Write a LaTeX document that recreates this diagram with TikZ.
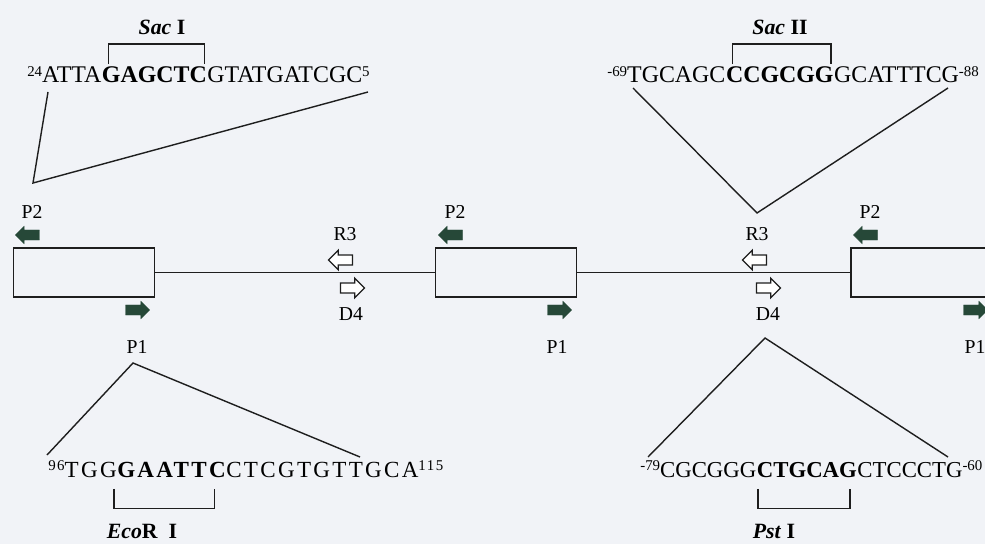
\documentclass[tikz,border=0pt]{standalone}
\usepackage{fontspec}
\setmainfont{Liberation Serif}
\usetikzlibrary{shapes.arrows}
\definecolor{primergreen}{RGB}{38,72,56}
\definecolor{paper}{RGB}{241,243,247}
\definecolor{ink}{RGB}{30,30,30}
\newcommand\seqpos[1]{\raisebox{4.3pt}{\fontsize{10.6}{12}\selectfont #1}}

\begin{document}
\begin{tikzpicture}[
x=0.025cm, y=-0.025cm,
exon/.style={rectangle, draw=ink, line width=1.2pt, minimum width=3.53cm, minimum height=1.22cm, inner sep=0pt},
intron/.style={draw=ink, line width=0.9pt},
tent/.style={draw=ink, line width=1pt},
site/.style={draw=ink, line width=1pt},
primerL/.style={single arrow, shape border rotate=180, fill=primergreen, draw=primergreen, line width=0.3pt,
  inner xsep=0pt, inner ysep=0.12cm, single arrow head extend=0.09cm, minimum height=0.6cm},
primerR/.style={primerL, shape border rotate=0},
hollowL/.style={single arrow, shape border rotate=180, fill=white, draw=ink, line width=0.9pt,
  inner xsep=0pt, inner ysep=0.11cm, single arrow head extend=0.12cm, minimum height=0.6cm},
hollowR/.style={hollowL, shape border rotate=0},
plabel/.style={font=\fontsize{14}{16}\selectfont, inner sep=0pt},
seq/.style={font=\fontsize{17}{19}\selectfont, inner sep=0pt},
seqbold/.style={font=\fontsize{17}{19}\selectfont\bfseries, inner sep=0pt},
seqwide/.style={font=\fontsize{16.4}{18}\selectfont\addfontfeature{LetterSpace=10}, inner sep=0pt},
seqwidebold/.style={font=\fontsize{16.4}{18}\selectfont\bfseries\addfontfeature{LetterSpace=10}, inner sep=0pt},
seqnarrow/.style={font=\fontsize{16.2}{18}\selectfont, inner sep=0pt},
seqnarrowbold/.style={font=\fontsize{16.2}{18}\selectfont\bfseries, inner sep=0pt},
enzyme/.style={font=\fontsize{15.5}{18}\selectfont\bfseries, inner sep=0pt},
]
\fill[paper] (0,0) rectangle (985,544);
\useasboundingbox (0,0) rectangle (985,544);

% exons and introns
\node[exon] (ex1) at (84,272.5) {};
\node[exon] (ex2) at (506,272.5) {};
\node[exon] (ex3) at (921.5,272.5) {};
\draw[intron] (ex1.east) -- (ex2.west);
\draw[intron] (ex2.east) -- (ex3.west);

% primers
\node[primerL] (p2a) at (30,235) {};
\node[primerL] (p2b) at (453,235) {};
\node[primerL] (p2c) at (868,235) {};
\node[primerR] (p1a) at (135,310) {};
\node[primerR] (p1b) at (557,310) {};
\node[primerR] (p1c) at (973,310) {};
\node[plabel] (l2a) at (32,212) {P2};
\node[plabel] (l2b) at (455,212) {P2};
\node[plabel] (l2c) at (870,212) {P2};
\node[plabel] (l1a) at (137,347) {P1};
\node[plabel] (l1b) at (557,347) {P1};
\node[plabel] (l1c) at (975,347) {P1};

\node[hollowL] (r3a) at (343,260) {};
\node[hollowR] (d4a) at (350,288) {};
\node[hollowL] (r3b) at (757,260) {};
\node[hollowR] (d4b) at (766,288) {};
\node[plabel] (lr3a) at (345,234) {R3};
\node[plabel] (ld4a) at (351,314) {D4};
\node[plabel] (lr3b) at (757,234) {R3};
\node[plabel] (ld4b) at (768,314) {D4};

% Sac I
\node[seq, anchor=base west] (saA) at (27,83) {\seqpos{24}ATTA};
\node[seqbold, anchor=base west] (saB) at (saA.base east) {GAGCTC};
\node[seq, anchor=base west] (saC) at (saB.base east) {GTATGATCGC\seqpos{5}};
\draw[site] ([xshift=5pt,yshift=2pt]saB.north west) -- ++(0,-20) -| ([xshift=-2pt,yshift=2pt]saB.north east);
\node[enzyme] (sacI) at (162,27) {\textit{Sac}~I};
\coordinate (ta) at (33,183);
\draw[tent] (48,92) -- (ta) -- (368,92);

% Sac II
\node[seq, anchor=base west] (sbA) at (607,83) {\seqpos{-69}TGCAGC};
\node[seqbold, anchor=base west] (sbB) at (sbA.base east) {CCGCGG};
\node[seq, anchor=base west] (sbC) at (sbB.base east) {GCATTTCG\seqpos{-88}};
\draw[site] ([xshift=5pt,yshift=2pt]sbB.north west) -- ++(0,-20) -| ([xshift=-2pt,yshift=2pt]sbB.north east);
\node[enzyme] (sacII) at (780,27) {\textit{Sac}~II};
\coordinate (tb) at (757,213);
\draw[tent] (633,88) -- (tb) -- (948,88);

% EcoR I
\node[seqwide, anchor=base west] (ecA) at (48,477) {\seqpos{96}TGG};
\node[seqwidebold, anchor=base west] (ecB) at (ecA.base east) {GAATTC};
\node[seqwide, anchor=base west] (ecC) at (ecB.base east) {CTCGTGTTGCA\seqpos{115}};
\draw[site] ([xshift=-2pt,yshift=-8pt]ecB.south west) -- ++(0,20) -| ([xshift=-8pt,yshift=-8pt]ecB.south east);
\node[enzyme] (ecoRI) at (142,531) {\textit{Eco}R~~I};
\coordinate (tc) at (133,363);
\draw[tent] (47,455) -- (tc) -- (360,457);

% Pst I
\node[seqnarrow, anchor=base west] (psA) at (640,477) {\seqpos{-79}CGCGGG};
\node[seqnarrowbold, anchor=base west] (psB) at (psA.base east) {CTGCAG};
\node[seqnarrow, anchor=base west] (psC) at (psB.base east) {CTCCCTG\seqpos{-60}};
\draw[site] ([xshift=1pt,yshift=-8pt]psB.south west) -- ++(0,20) -| ([xshift=-5pt,yshift=-8pt]psB.south east);
\node[enzyme] (pstI) at (774,531) {\textit{Pst}~I};
\coordinate (td) at (765,338);
\draw[tent] (648,457) -- (td) -- (948,457);
\end{tikzpicture}
\end{document}
